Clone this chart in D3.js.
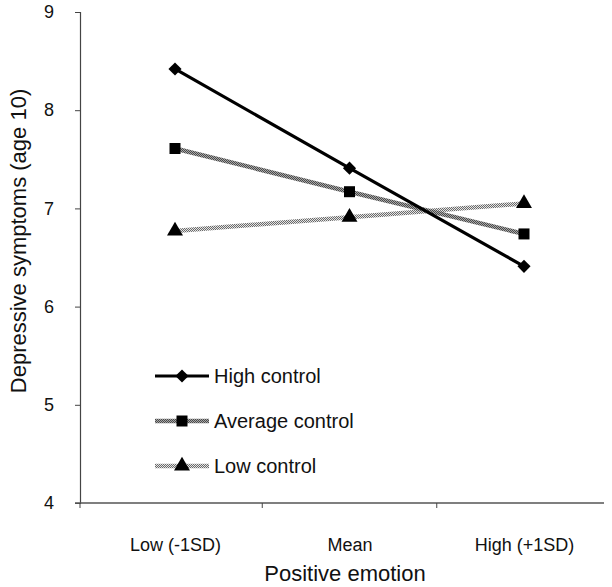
<!DOCTYPE html>
<html><head><meta charset="utf-8">
<script src="https://cdn.jsdelivr.net/npm/d3@7"></script>
<style>body{margin:0;background:#fff}svg{display:block}text{font-family:"Liberation Sans",Arial,sans-serif;fill:#111}</style>
</head><body><svg id="c" width="612" height="587"></svg>
<script>
const categories = ["Low (-1SD)", "Mean", "High (+1SD)"];
const seriesNames = ["High control", "Average control", "Low control"];
const highControl = [8.42, 7.41, 6.41];
const averageControl = [7.61, 7.17, 6.74];
const lowControl = [6.77, 6.91, 7.05];
const yTicks = [4, 5, 6, 7, 8, 9];
const xTitle = "Positive emotion";
const yTitle = "Depressive symptoms (age 10)";

const svg = d3.select("#c");
const defs = svg.append("defs");
function checker(id, a, b) {
  const p = defs.append("pattern").attr("id", id).attr("patternUnits", "userSpaceOnUse")
    .attr("width", 2).attr("height", 2);
  p.append("rect").attr("width", 2).attr("height", 2).attr("fill", b);
  p.append("rect").attr("width", 1).attr("height", 1).attr("fill", a);
  p.append("rect").attr("x", 1).attr("y", 1).attr("width", 1).attr("height", 1).attr("fill", a);
}
checker("patAvg", "#4a4a4a", "#a8a8a8");
checker("patLow", "#6a6a6a", "#e4e4e4");

const x0 = 80, axisEnd = 604;
const x = d3.scalePoint().domain(categories).range([175, 524]);
const y = d3.scaleLinear().domain([4, 9]).range([503, 12]);

// y axis
const ya = svg.append("g").attr("transform", `translate(${x0},0)`)
  .call(d3.axisLeft(y).tickValues(yTicks).tickSize(5).tickPadding(21).tickFormat(d3.format("d")));
ya.select(".domain").attr("stroke", "#444").attr("stroke-width", 1.2);
ya.selectAll(".tick line").attr("stroke", "#444");
ya.selectAll("text").attr("font-size", 18).attr("font-family", "Liberation Sans, Arial").attr("fill", "#111");

// x axis
const xa = svg.append("g").attr("transform", `translate(0,${y(4)})`)
  .call(d3.axisBottom(x).tickSize(0).tickPadding(35));
xa.select(".domain").remove();
xa.append("line").attr("x1", x0 - 5).attr("x2", axisEnd).attr("y1", 0).attr("y2", 0)
  .attr("stroke", "#555").attr("stroke-width", 1.6);
const tickPos = [x0, (x(categories[0]) + x(categories[1])) / 2, (x(categories[1]) + x(categories[2])) / 2];
xa.selectAll(".btick").data(tickPos).join("line").attr("class", "btick")
  .attr("x1", d => d).attr("x2", d => d).attr("y1", 0).attr("y2", 5).attr("stroke", "#444");
xa.selectAll(".tick text").attr("font-size", 18).attr("font-family", "Liberation Sans, Arial").attr("fill", "#111");

// titles
svg.append("text").attr("x", 345).attr("y", 581).attr("text-anchor", "middle")
  .attr("font-size", 22).text(xTitle);
svg.append("text").attr("transform", "translate(26,241) rotate(-90)").attr("text-anchor", "middle")
  .attr("font-size", 22).text(yTitle);

const series = [
  {name: seriesNames[0], values: highControl, stroke: "#000", width: 3.2, marker: d3.symbolDiamond2, size: 110},
  {name: seriesNames[1], values: averageControl, stroke: "url(#patAvg)", width: 4.5, marker: d3.symbolSquare, size: 121},
  {name: seriesNames[2], values: lowControl, stroke: "url(#patLow)", width: 4.5, marker: d3.symbolTriangle, size: 110}
];
const line = d3.line().x((d, i) => x(categories[i])).y(d => y(d));

const drawOrder = [2, 1, 0];
drawOrder.forEach(k => {
  const s = series[k];
  svg.append("path").datum(s.values).attr("d", line).attr("fill", "none")
    .attr("stroke", s.stroke).attr("stroke-width", s.width);
});
drawOrder.forEach(k => {
  const s = series[k];
  svg.selectAll(null).data(s.values).join("path")
    .attr("d", d3.symbol(s.marker, s.size))
    .attr("transform", (d, i) => `translate(${x(categories[i])},${y(d)})`)
    .attr("fill", "#000");
});

// legend
const legY = [376, 421, 466];
series.forEach((s, i) => {
  const g = svg.append("g").attr("transform", `translate(155,${legY[i]})`);
  g.append("line").attr("x1", 0).attr("x2", 54).attr("stroke", s.stroke).attr("stroke-width", s.width);
  g.append("path").attr("d", d3.symbol(s.marker, s.size)).attr("transform", "translate(27,0)").attr("fill", "#000");
  g.append("text").attr("x", 59).attr("y", 7).attr("font-size", 20).text(s.name);
});
</script></body></html>
